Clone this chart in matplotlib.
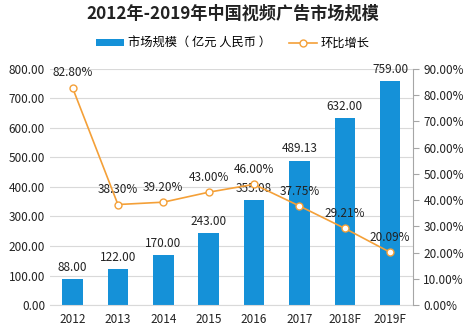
import matplotlib
matplotlib.use("Agg")
import matplotlib.pyplot as plt
from matplotlib.ticker import FuncFormatter

plt.rcParams['font.family'] = ['Noto Sans CJK SC', 'DejaVu Sans']

years = ["2012", "2013", "2014", "2015", "2016", "2017", "2018F", "2019F"]
market_size = [88.00, 122.00, 170.00, 243.00, 355.08, 489.13, 632.00, 759.00]
growth = [82.80, 38.30, 39.20, 43.00, 46.00, 37.75, 29.21, 20.09]

bar_color = "#1591D8"
line_color = "#F4A038"
grid_color = "#D9D9D9"
text_color = "#222222"

fig = plt.figure(figsize=(4.66, 3.28), dpi=100)
ax = fig.add_axes([0.107, 0.070, 0.779, 0.720])
x = list(range(len(years)))

ax.bar(x, market_size, width=0.45, color=bar_color, zorder=2,
       label="市场规模（亿元 人民币）")
for xi, v in zip(x, market_size):
    ax.text(xi, v + 18, "{:.2f}".format(v), ha="center", va="bottom",
            fontsize=8.5, color=text_color, zorder=5)

ax.set_xlim(-0.5, len(years) - 0.5)
ax.set_ylim(0, 800)
ax.set_yticks(range(0, 801, 100))
ax.yaxis.set_major_formatter(FuncFormatter(lambda v, p: "{:.2f}".format(v)))
ax.set_xticks(x)
ax.set_xticklabels(years)
ax.grid(axis="y", color=grid_color, linewidth=0.8, zorder=0)
for s in ["top", "right", "left"]:
    ax.spines[s].set_visible(False)
ax.spines["bottom"].set_color(grid_color)
ax.tick_params(axis="both", length=0, labelsize=8.5, colors=text_color)
ax.tick_params(axis="x", pad=6)

ax2 = ax.twinx()
ax2.plot(x, growth, color=line_color, linewidth=1.2, marker="o",
         markersize=5, markerfacecolor="white", markeredgecolor=line_color,
         markeredgewidth=1.0, zorder=4, label="环比增长")
for xi, v in zip(x, growth):
    ax2.text(xi, v + 3.2, "{:.2f}%".format(v), ha="center", va="bottom",
             fontsize=8.5, color=text_color, zorder=5)
ax2.set_ylim(0, 90)
ax2.set_yticks(range(0, 91, 10))
ax2.yaxis.set_major_formatter(FuncFormatter(lambda v, p: "{:.2f}%".format(v)))
for s in ["top", "left", "bottom"]:
    ax2.spines[s].set_visible(False)
ax2.spines["right"].set_color("#A6A6A6")
ax2.tick_params(axis="y", length=4, color="#A6A6A6", labelsize=8.5,
                colors=text_color)

fig.text(0.5, 0.958, "2012年-2019年中国视频广告市场规模", ha="center",
         va="center", fontsize=12.3, fontweight="bold", color=text_color)

h1, l1 = ax.get_legend_handles_labels()
h2, l2 = ax2.get_legend_handles_labels()
fig.legend(h1 + h2, ["市场规模（ 亿元 人民币 ）", l2[0]], loc="center",
           bbox_to_anchor=(0.5, 0.868), ncol=2, frameon=False, fontsize=8.8,
           handlelength=2.3, handleheight=0.6, columnspacing=1.5,
           handletextpad=0.3)

fig.savefig("out.png", dpi=100)
